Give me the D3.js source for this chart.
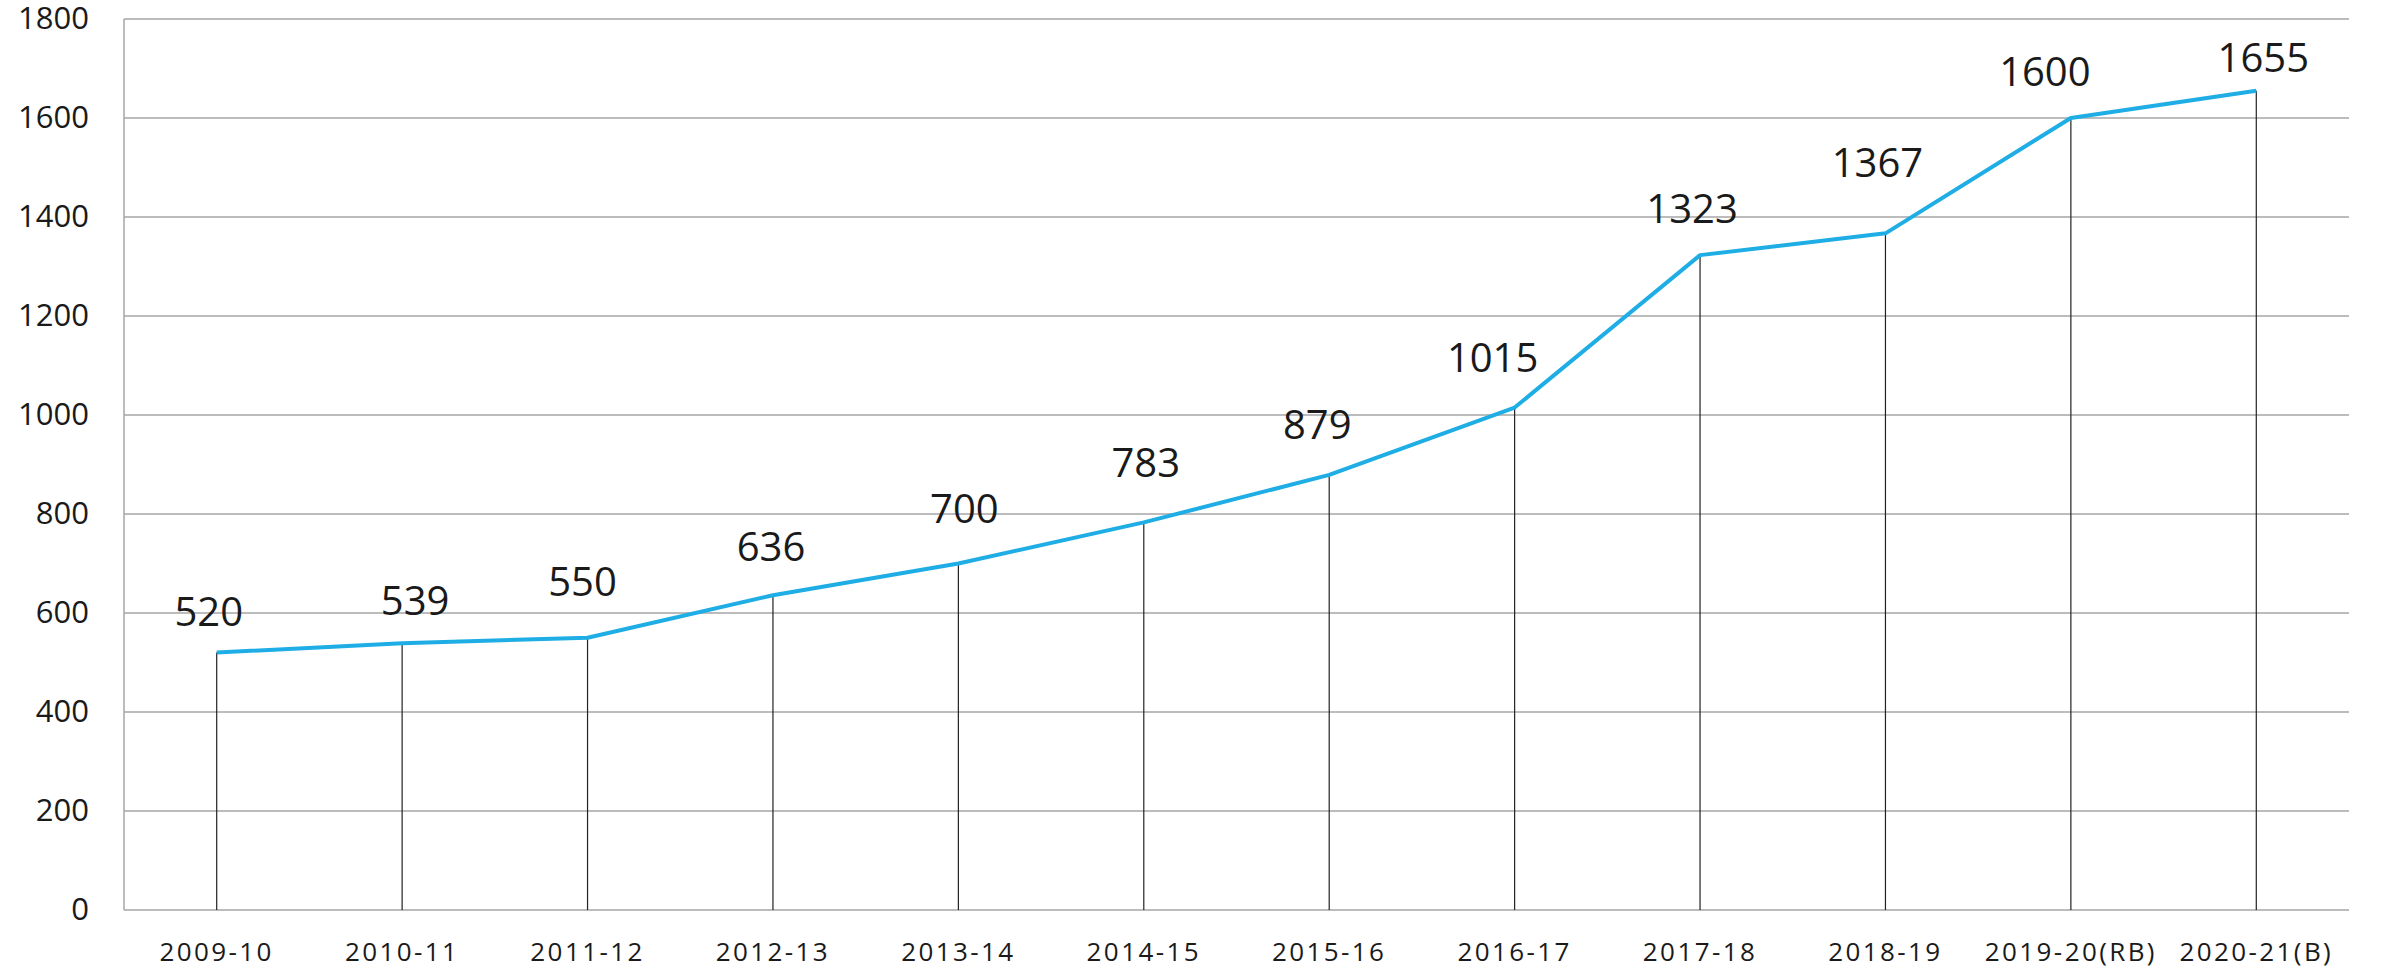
<!DOCTYPE html>
<html>
<head>
<meta charset="utf-8">
<script src="https://cdn.jsdelivr.net/npm/d3@7"></script>
<style>
  html, body { margin: 0; padding: 0; background: #fff; }
  svg { display: block; }
  text { font-family: "Open Sans", "Noto Sans", sans-serif; fill: #1a1a1a; }
</style>
</head>
<body>
<svg id="chart" width="2382" height="975"></svg>
<script>
// ---- data ----
const categories = ["2009-10","2010-11","2011-12","2012-13","2013-14","2014-15","2015-16","2016-17","2017-18","2018-19","2019-20(RB)","2020-21(B)"];
const values = [520, 539, 550, 636, 700, 783, 879, 1015, 1323, 1367, 1600, 1655];
const yTicks = [0, 200, 400, 600, 800, 1000, 1200, 1400, 1600, 1800];
// label nudges (layout only, px)
const labelDx = [-8, 13, -5, -2, 6, 2, -12, -22, -8, -8, -26, 7];
const labelDy = [27, 28, 42, 34, 41, 45, 36, 36, 32, 56, 32, 19];

const svg = d3.select("#chart");
const margin = {left: 124, right: 2382 - 2349, top: 19, bottom: 975 - 910};
const W = 2382, H = 975;

const x = d3.scaleBand().domain(categories).range([margin.left, W - margin.right]);
const y = d3.scaleLinear().domain([0, 1800]).range([H - margin.bottom, margin.top]);
const cx = d => x(d) + x.bandwidth() / 2;

// gridlines
svg.append("g").selectAll("line").data(yTicks).join("line")
  .attr("x1", margin.left).attr("x2", W - margin.right)
  .attr("y1", d => y(d)).attr("y2", d => y(d))
  .attr("stroke", "#a6a6a6").attr("stroke-width", 1.5);

// left axis line
svg.append("line")
  .attr("x1", margin.left).attr("x2", margin.left)
  .attr("y1", y(1800)).attr("y2", y(0))
  .attr("stroke", "#a6a6a6").attr("stroke-width", 1.5);

// y axis labels
const yAxis = d3.axisLeft(y).tickValues(yTicks).tickFormat(d3.format("d")).tickSize(0).tickPadding(35);
const gy = svg.append("g").attr("transform", `translate(${margin.left},0)`).call(yAxis);
gy.select(".domain").remove();
gy.selectAll("text").style("font-size", "31px").attr("fill", "#1a1a1a")
  .style("font-family", '"Open Sans", sans-serif');

// x axis labels
const xAxis = d3.axisBottom(x).tickSize(0).tickPadding(33);
const gx = svg.append("g").attr("transform", `translate(0,${y(0)})`).call(xAxis);
gx.select(".domain").remove();
gx.selectAll("text").style("font-size", "26px").style("letter-spacing", "2.4px")
  .attr("fill", "#1a1a1a").style("font-family", '"Open Sans", sans-serif');

// drop lines
svg.append("g").selectAll("line").data(categories).join("line")
  .attr("x1", d => cx(d)).attr("x2", d => cx(d))
  .attr("y1", (d, i) => y(values[i])).attr("y2", y(0))
  .attr("stroke", "#222").attr("stroke-width", 1.2);

// line
const line = d3.line().x((d, i) => cx(categories[i])).y(d => y(d));
svg.append("path").datum(values)
  .attr("d", line).attr("fill", "none")
  .attr("stroke", "#1eade4").attr("stroke-width", 4)
  .attr("stroke-linejoin", "round");

// data labels
svg.append("g").selectAll("text").data(values).join("text")
  .attr("x", (d, i) => cx(categories[i]) + labelDx[i])
  .attr("y", (d, i) => y(d) - labelDy[i])
  .attr("text-anchor", "middle")
  .style("font-size", "40px")
  .text(d => d);
</script>
</body>
</html>
